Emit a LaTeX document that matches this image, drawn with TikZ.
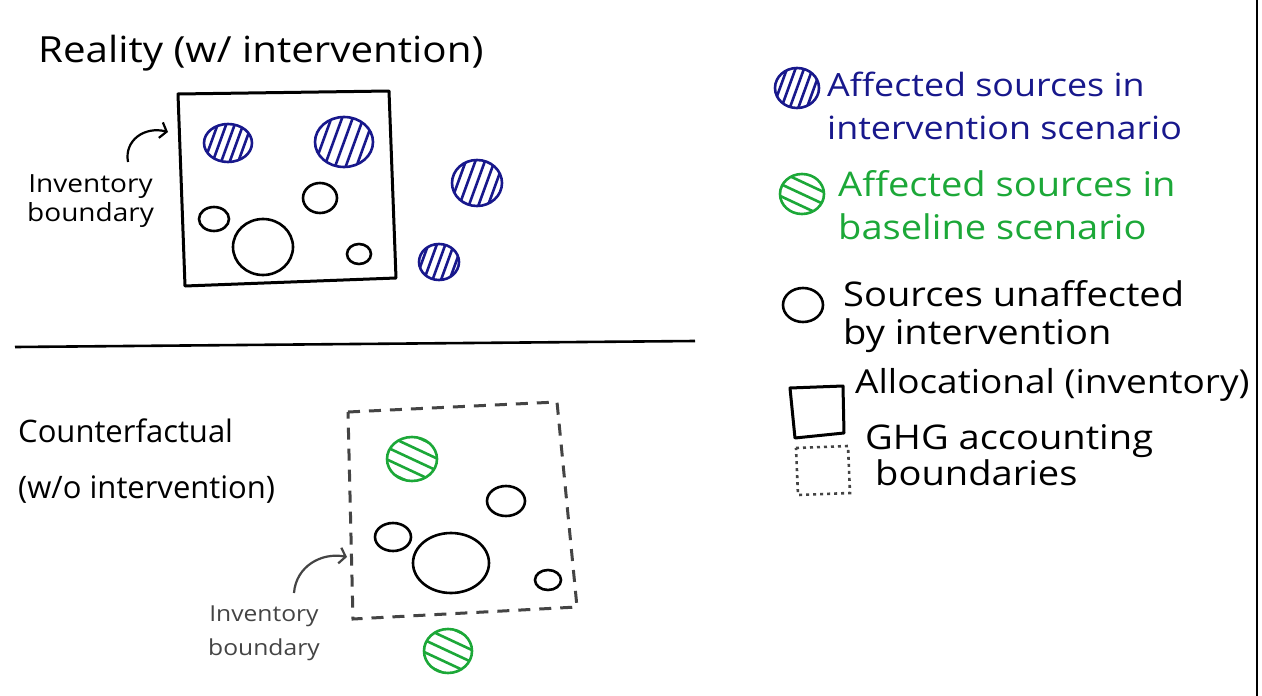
\documentclass[tikz,border=0pt]{standalone}
\usepackage{fontspec}
\setmainfont{Open Sans}
\newfontfamily\widefont[FakeStretch=1.12]{Open Sans}
\usetikzlibrary{arrows.meta,calc}
\definecolor{blueink}{RGB}{24,24,140}
\definecolor{greenink}{RGB}{28,168,56}
\definecolor{grayink}{RGB}{68,68,68}
\tikzset{
  bluestroke/.style={draw=blueink,line width=2.6pt},
  greenstroke/.style={draw=greenink,line width=2.6pt},
  plainsrc/.style={draw=black,line width=2.6pt},
  solidbound/.style={draw=black,line width=3pt,line join=round},
  dashbound/.style={draw=grayink,line width=3pt,dash pattern=on 12pt off 9pt},
  dotbound/.style={draw=grayink,line width=2.6pt,dash pattern=on 3pt off 4pt},
  pointer/.style={line width=2.2pt,-{Straight Barb[length=6pt,width=16pt]}},
  txt/.style={inner sep=0pt,anchor=north west,align=left},
}
\newcommand\hatchsrc[7]{% style, x, y, rx, ry, angle, spacing
  \begin{scope}
    \clip (#2,#3) ellipse [x radius=#4pt, y radius=#5pt];
    \foreach \k in {-4,...,4}{
      \draw[#1] ($(#2,#3)+(#6:45)+(#6+90:\k*#7)$) -- ($(#2,#3)+(#6+180:45)+(#6+90:\k*#7)$);
    }
  \end{scope}
  \draw[#1] (#2,#3) ellipse [x radius=#4pt, y radius=#5pt];
}
\begin{document}
\begin{tikzpicture}[x=1pt,y=-1pt]
\useasboundingbox (0,0) rectangle (1262,696);
\fill[white] (0,0) rectangle (1262,696);

% right edge line
\draw[line width=2pt] (1257,0) -- (1257,696);

% ---------- Reality ----------
\node[inner sep=0pt,anchor=base west,font=\widefont\fontsize{36}{40}\selectfont] (title1) at (38,62) {Reality (w/ intervention)};

\draw[solidbound] (178,94) -- (389,91) -- (396,278) -- (185,286) -- cycle;

\hatchsrc{bluestroke}{228}{143}{24}{19}{-70}{8}
\hatchsrc{bluestroke}{344}{142}{29}{25}{-70}{10}
\hatchsrc{bluestroke}{477}{183}{25}{23}{-70}{9}
\hatchsrc{bluestroke}{439}{262}{20}{18}{-70}{8}

\draw[plainsrc] (214,219) ellipse [x radius=15pt, y radius=12pt];
\draw[plainsrc] (320,198) ellipse [x radius=17pt, y radius=15pt];
\draw[plainsrc] (263,247) ellipse [x radius=30pt, y radius=28pt];
\draw[plainsrc] (359,254) ellipse [x radius=12pt, y radius=10pt];

\node[txt,align=center,font=\widefont\fontsize{25}{29}\selectfont] (inv1) at (27,174) {Inventory\\boundary};
\coordinate (inv1s) at (128,162);
\coordinate (inv1e) at (168,132);
\draw[pointer] (inv1s) .. controls (124,140) and (145,126) .. (inv1e);

% divider
\draw[line width=2.6pt] (15,347) -- (695,341);

% ---------- Counterfactual ----------
\node[txt,font=\fontsize{31}{56}\selectfont] (title2) at (18,419) {Counterfactual\\(w/o intervention)};

\draw[dashbound] (348,412) -- (557,402) -- (577,607) -- (353,619) -- cycle;

\hatchsrc{greenstroke}{412}{459}{25}{22}{25}{11}
\hatchsrc{greenstroke}{448}{651}{24}{22}{25}{11}

\draw[plainsrc] (506,501) ellipse [x radius=19pt, y radius=15pt];
\draw[plainsrc] (393,537) ellipse [x radius=18pt, y radius=14pt];
\draw[plainsrc] (451,563) ellipse [x radius=38pt, y radius=30pt];
\draw[plainsrc] (548,580) ellipse [x radius=13pt, y radius=10pt];

\node[txt,align=center,text=grayink,font=\widefont\fontsize{22}{34}\selectfont] (inv2) at (208,606) {Inventory\\boundary};
\coordinate (inv2s) at (294,593);
\coordinate (inv2e) at (347,557);
\draw[pointer,grayink] (inv2s) .. controls (296,566) and (322,552) .. (inv2e);

% ---------- Legend ----------
\hatchsrc{bluestroke}{797}{88}{22}{20}{-70}{8}
\node[txt,text=blueink,font=\widefont\fontsize{32}{43}\selectfont] (lg1) at (827,72) {Affected sources in\\intervention scenario};

\hatchsrc{greenstroke}{802}{194}{22}{20}{25}{11}
\node[txt,text=greenink,font=\widefont\fontsize{34}{43}\selectfont] (lg2) at (838,170) {Affected sources in\\baseline scenario};

\draw[plainsrc] (803,305) ellipse [x radius=20pt, y radius=17pt];
\node[txt,font=\widefont\fontsize{34}{38}\selectfont] (lg3) at (843,280) {Sources unaffected\\by intervention};

\draw[solidbound] (790,388) -- (843,386) -- (844,433) -- (795,438) -- cycle;
\node[txt,font=\widefont\fontsize{33}{38}\selectfont] (lg4) at (855,368) {Allocational (inventory)};

\draw[dotbound] (796,448) -- (848,446) -- (850,493) -- (798,495) -- cycle;
\node[txt,font=\widefont\fontsize{34}{36}\selectfont] (lg5) at (865,424) {GHG accounting\\\hspace*{10pt}boundaries};
\end{tikzpicture}
\end{document}
